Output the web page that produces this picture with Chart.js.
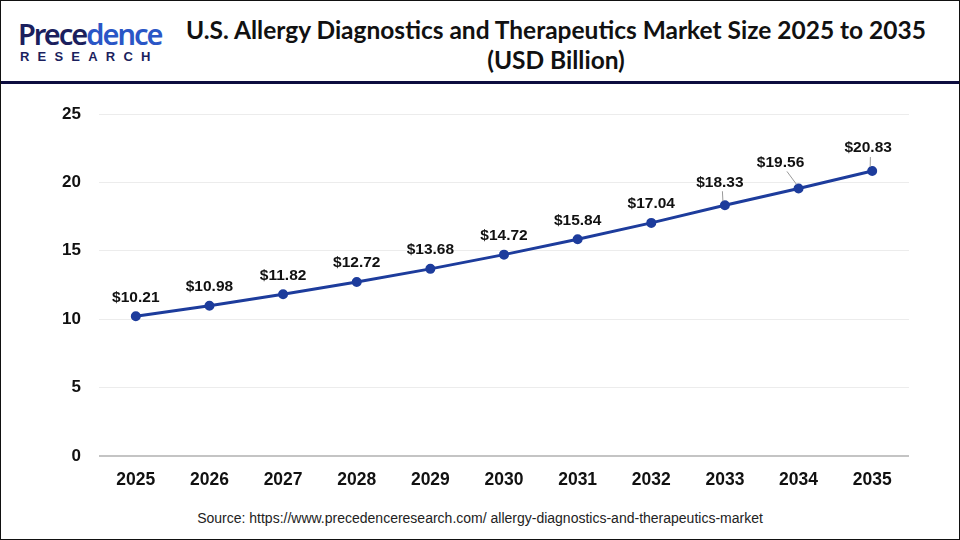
<!DOCTYPE html>
<html>
<head>
<meta charset="utf-8">
<script src="https://cdn.jsdelivr.net/npm/chart.js@4"></script>
<style>
  body { margin: 0; background: #fff; }
  #page { position: relative; width: 958px; height: 538px; border: 1px solid #111; overflow: hidden; font-family: "Liberation Sans", Arial, sans-serif; }
  #header { position: absolute; left: 0; top: 0; width: 958px; height: 80px; border-bottom: 3px solid #0d0d3f; }
  #logo { position: absolute; left: 17px; top: 17px; color: #1b1f5e; }
  #logo .big { font-family: "Noto Sans", sans-serif; font-weight: 600; font-size: 29px; line-height: 31px; letter-spacing: -2px; }
  #logo .big span { color: #2a56c6; }
  #logo .small { font-size: 13px; font-weight: bold; letter-spacing: 8.2px; margin-top: 0px; margin-left: 2px; }
  #title { position: absolute; left: 160px; width: 790px; top: 14px; text-align: center; font-family: "Lato", sans-serif; font-weight: bold; font-size: 24.5px; line-height: 30px; color: #111; }
  #box { position: absolute; left: 0; top: 84px; width: 958px; height: 416px; }
  #source { position: absolute; left: 0; width: 958px; top: 509px; text-align: center; font-size: 14px; color: #222; }
</style>
</head>
<body>
<div id="page">
  <div id="header">
    <div id="logo"><div class="big">Prece<span>dence</span></div><div class="small">RESEARCH</div></div>
    <div id="title">U.S. Allergy Diagnostics and Therapeutics Market Size 2025 to 2035<br>(USD Billion)</div>
  </div>
  <div id="box"><canvas id="myChart"></canvas></div>
  <div id="source">Source: https://www.precedenceresearch.com/ allergy-diagnostics-and-therapeutics-market</div>
</div>
<script>
// data
var years = ['2025', '2026', '2027', '2028', '2029', '2030', '2031', '2032', '2033', '2034', '2035'];
var marketSize = [10.21, 10.98, 11.82, 12.72, 13.68, 14.72, 15.84, 17.04, 18.33, 19.56, 20.83];
var yTicks = [0, 5, 10, 15, 20, 25];

var lineColor = '#1d3c9c';

// value labels above points, last few pushed up-left with a small leader line
var valueLabels = {
    id: 'valueLabels',
    afterDatasetsDraw: function (chart) {
        var ctx = chart.ctx;
        var meta = chart.getDatasetMeta(0);
        var n = years.length;
        ctx.save();
        ctx.font = 'bold 15.5px "Liberation Sans", Arial, sans-serif';
        ctx.fillStyle = '#111';
        ctx.textAlign = 'center';
        ctx.textBaseline = 'middle';
        meta.data.forEach(function (pt, i) {
            var dx = 0, dy = -19;
            if (i >= n - 3) {
                dx = i == n - 1 ? -4 : (i == n - 2 ? -18 : -5);
                dy = i == n - 2 ? -26 : -23;
                ctx.strokeStyle = '#9a9a9a';
                ctx.lineWidth = 1;
                ctx.beginPath();
                ctx.moveTo(pt.x - 2, pt.y - 4);
                ctx.lineTo(pt.x + dx * 0.7 + 1, pt.y + dy + 9);
                ctx.stroke();
            }
            ctx.fillText('$' + marketSize[i].toFixed(2), pt.x + dx, pt.y + dy);
        });
        ctx.restore();
    }
};

var ctx = document.getElementById('myChart').getContext('2d');
var myChart = new Chart(ctx, {
    type: 'line',
    data: {
        labels: years,
        datasets: [{
            data: marketSize,
            borderColor: lineColor,
            backgroundColor: lineColor,
            borderWidth: 3,
            pointRadius: 3.5,
            pointHoverRadius: 3.5,
            tension: 0
        }]
    },
    options: {
        responsive: true,
        maintainAspectRatio: false,
        animation: false,
        layout: { padding: { left: 50, right: 50, top: 29, bottom: 0 } },
        plugins: { legend: { display: false }, tooltip: { enabled: false } },
        scales: {
            x: {
                offset: true,
                grid: { display: false },
                border: { display: false },
                ticks: { color: '#111', padding: 6, font: { family: '"Liberation Sans", Arial', size: 17.5, weight: 'bold' } },
                afterFit: function (scale) { scale.height = 45; }
            },
            y: {
                min: 0,
                max: 25,
                afterBuildTicks: function (scale) {
                    scale.ticks = yTicks.map(function (v) { return { value: v }; });
                },
                grid: {
                    color: function (c) { return c.tick && c.tick.value === 0 ? '#c4c4c4' : '#ececec'; },
                    lineWidth: function (c) { return c.tick && c.tick.value === 0 ? 2 : 1; },
                    drawTicks: false
                },
                border: { display: false },
                ticks: { color: '#111', padding: 18, font: { family: '"Liberation Sans", Arial', size: 17, weight: 'bold' } },
                afterFit: function (scale) { scale.width = 48; }
            }
        }
    },
    plugins: [valueLabels]
});
</script>
</body>
</html>
